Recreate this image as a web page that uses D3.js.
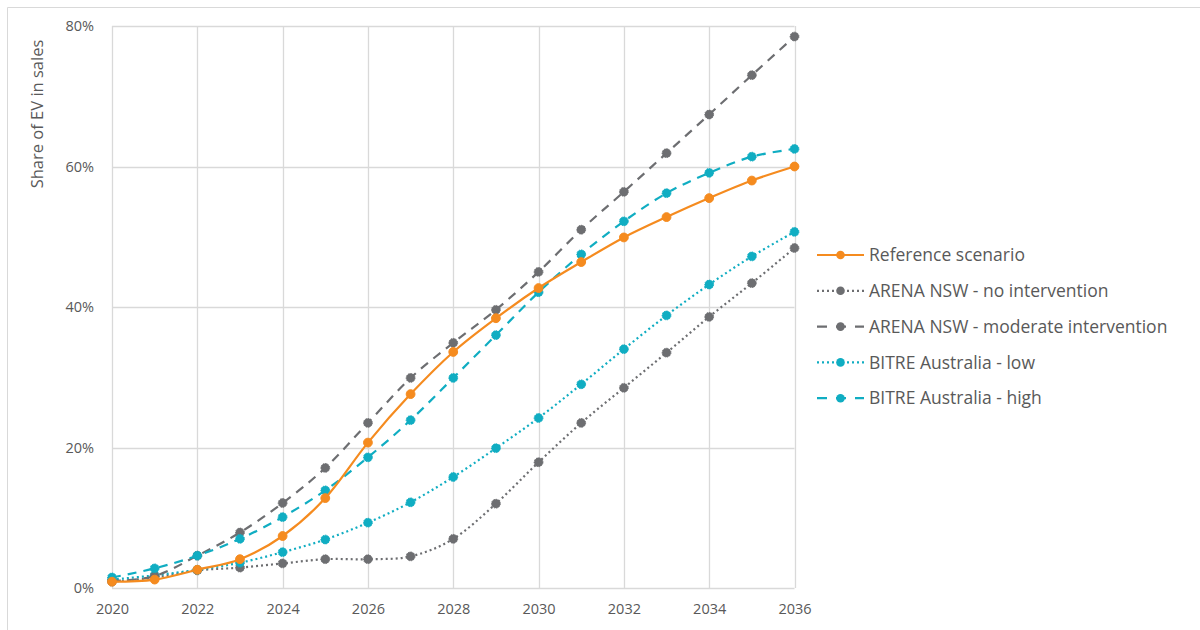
<!DOCTYPE html>
<html>
<head>
<meta charset="utf-8">
<script src="https://cdn.jsdelivr.net/npm/d3@7/dist/d3.min.js"></script>
<style>
  html, body { margin: 0; padding: 0; background: #fff; }
  svg { display: block; font-family: "Open Sans", "Noto Sans", sans-serif; }
</style>
</head>
<body>
<svg id="chart" width="1200" height="630"></svg>
<script>
// Years on the x axis
const years = [2020, 2021, 2022, 2023, 2024, 2025, 2026, 2027, 2028, 2029, 2030, 2031, 2032, 2033, 2034, 2035, 2036];

// Share of EV in new vehicle sales (%), per scenario
const referenceScenario = [0.9, 1.2, 2.6, 4.1, 7.4, 12.8, 20.7, 27.6, 33.6, 38.4, 42.7, 46.4, 49.9, 52.8, 55.5, 58.0, 60.0];
const arenaNoIntervention = [0.9, 1.5, 2.5, 2.9, 3.5, 4.1, 4.1, 4.5, 7.0, 12.0, 17.9, 23.5, 28.5, 33.5, 38.6, 43.4, 48.4];
const arenaModerate = [1.0, 1.7, 4.6, 7.9, 12.1, 17.1, 23.5, 29.9, 34.9, 39.6, 45.0, 51.0, 56.4, 61.9, 67.4, 73.0, 78.5];
const bitreLow = [1.2, 1.8, 2.6, 3.6, 5.1, 6.9, 9.3, 12.2, 15.8, 19.9, 24.2, 29.0, 34.0, 38.8, 43.2, 47.2, 50.7];
const bitreHigh = [1.5, 2.8, 4.6, 7.0, 10.1, 13.9, 18.6, 23.9, 29.9, 36.0, 42.1, 47.5, 52.2, 56.2, 59.1, 61.4, 62.5];

// Axis ticks
const xTicks = [2020, 2022, 2024, 2026, 2028, 2030, 2032, 2034, 2036];
const yTicks = [0, 20, 40, 60, 80];
const yTickLabels = ["0%", "20%", "40%", "60%", "80%"];

const seriesNames = [
  "Reference scenario",
  "ARENA NSW - no intervention",
  "ARENA NSW - moderate intervention",
  "BITRE Australia - low",
  "BITRE Australia - high"
];

const orange = "#f58b1f", grey = "#6d6e71", teal = "#10adc2";
const series = [
  { name: seriesNames[0], values: referenceScenario, color: orange, dash: null, legendDash: null },
  { name: seriesNames[1], values: arenaNoIntervention, color: grey, dash: "2,3", legendDash: "2,3" },
  { name: seriesNames[2], values: arenaModerate, color: grey, dash: "9,7", legendDash: "10,9" },
  { name: seriesNames[3], values: bitreLow, color: teal, dash: "2,3", legendDash: "2,3" },
  { name: seriesNames[4], values: bitreHigh, color: teal, dash: "9,7", legendDash: "10,9" }
];

const textColor = "#595959";
const svg = d3.select("#chart");

// Outer frame (top and left edges)
svg.append("line").attr("x1", 7.5).attr("x2", 1200).attr("y1", 7.5).attr("y2", 7.5)
  .attr("stroke", "#d9d9d9").attr("stroke-width", 1);
svg.append("line").attr("x1", 7.5).attr("x2", 7.5).attr("y1", 7.5).attr("y2", 630)
  .attr("stroke", "#d9d9d9").attr("stroke-width", 1);

const x = d3.scaleLinear().domain([2020, 2036]).range([112, 794.5]);
const y = d3.scaleLinear().domain([0, 80]).range([588, 26]);

// Gridlines
const grid = svg.append("g");
grid.selectAll("line.v").data(xTicks).join("line")
  .attr("x1", d => Math.round(x(d)) + 0.5).attr("x2", d => Math.round(x(d)) + 0.5)
  .attr("y1", y(80)).attr("y2", y(0))
  .attr("stroke", "#d9d9d9").attr("stroke-width", 1.3);
grid.selectAll("line.h").data(yTicks).join("line")
  .attr("x1", x(2020)).attr("x2", x(2036))
  .attr("y1", d => Math.round(y(d)) + 0.5).attr("y2", d => Math.round(y(d)) + 0.5)
  .attr("stroke", "#d9d9d9").attr("stroke-width", 1.3);

// Axes (labels only)
const xAxis = d3.axisBottom(x).tickValues(xTicks).tickFormat(d3.format("d")).tickSize(0).tickPadding(16);
svg.append("g").attr("transform", `translate(0,${y(0)})`).call(xAxis)
  .call(g => g.select(".domain").remove())
  .call(g => g.selectAll("text").attr("fill", textColor).style("font-size", "14.5px")
    .style("font-family", "'Open Sans', sans-serif"));

const yAxis = d3.axisLeft(y).tickValues(yTicks).tickFormat((d, i) => yTickLabels[i]).tickSize(0).tickPadding(18);
svg.append("g").attr("transform", `translate(${x(2020)},0)`).call(yAxis)
  .call(g => g.select(".domain").remove())
  .call(g => g.selectAll("text").attr("fill", textColor).style("font-size", "14.5px")
    .style("font-family", "'Open Sans', sans-serif"));

// Y axis title
svg.append("text")
  .attr("transform", "translate(43,114) rotate(-90)")
  .attr("text-anchor", "middle")
  .attr("fill", textColor)
  .style("font-size", "16.5px")
  .text("Share of EV in sales");

// Smoothed series lines
const line = d3.line()
  .x((d, i) => x(years[i]))
  .y(d => y(d))
  .curve(d3.curveCatmullRom.alpha(0));

const plot = svg.append("g");
const drawOrder = [1, 3, 2, 4, 0];
drawOrder.forEach(idx => {
  const s = series[idx];
  const g = plot.append("g");
  g.append("path")
    .attr("d", line(s.values))
    .attr("fill", "none")
    .attr("stroke", s.color)
    .attr("stroke-width", 2.2)
    .attr("stroke-dasharray", s.dash);
  g.selectAll("circle").data(s.values).join("circle")
    .attr("cx", (d, i) => x(years[i]))
    .attr("cy", d => y(d))
    .attr("r", 4.4)
    .attr("fill", s.color)
    .attr("stroke", s.color)
    .attr("stroke-width", 1)
    .attr("stroke-dasharray", s.dash ? "1.5,1" : null);
});

// Legend
const legend = svg.append("g").attr("transform", "translate(817,255)");
series.forEach((s, i) => {
  const row = legend.append("g").attr("transform", `translate(0,${i * 35.8})`);
  row.append("line")
    .attr("x1", 0).attr("x2", 47).attr("y1", 0).attr("y2", 0)
    .attr("stroke", s.color).attr("stroke-width", 2.2)
    .attr("stroke-dasharray", s.legendDash);
  row.append("circle").attr("cx", 23.5).attr("cy", 0).attr("r", 4.3).attr("fill", s.color);
  row.append("text")
    .attr("x", 52).attr("y", 0).attr("dy", "0.35em")
    .attr("fill", textColor)
    .style("font-size", "17.5px")
    .text(s.name);
});
</script>
</body>
</html>
